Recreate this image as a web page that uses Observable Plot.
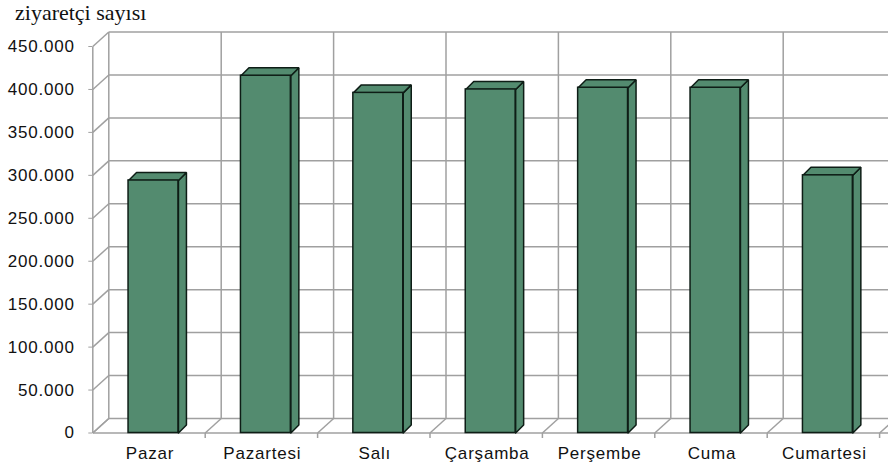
<!DOCTYPE html>
<html>
<head>
<meta charset="utf-8">
<script src="https://cdn.jsdelivr.net/npm/d3@7"></script>
<script src="https://cdn.jsdelivr.net/npm/@observablehq/plot@0.6"></script>
<style>
  html, body { margin: 0; padding: 0; background: #fff; overflow: hidden; }
  #chart { position: relative; width: 888px; height: 470px; }
  #title {
    position: absolute; left: 15px; top: 0; z-index: 1;
    font-family: "Liberation Serif", "Times New Roman", serif;
    font-size: 22px; line-height: 25px; color: #111;
  }
  #chart svg text { letter-spacing: 0.8px; }
</style>
</head>
<body>
<div id="chart"><div id="title">ziyaretçi sayısı</div></div>
<script>
// Weekly visitor counts
const days = ["Pazar", "Pazartesi", "Salı", "Çarşamba", "Perşembe", "Cuma", "Cumartesi"];
const visitors = [294000, 416000, 396000, 400000, 402000, 402000, 300000];
const yTicks = [0, 50000, 100000, 150000, 200000, 250000, 300000, 350000, 400000, 450000];
const yMax = 450000;

// Layout of the front plane (pixels)
const W = 888, H = 470;
const plotLeft = 92.3, plotRight = 879.1, plotTop = 46, plotBottom = 432.5;
const band = (plotRight - plotLeft) / days.length;
const pxPerValue = (plotBottom - plotTop) / yMax;

// Pixel depth offsets expressed in data units
const ux = px => px / band;
const uy = px => px / pxPerValue;
const wallX = ux(16), wallY = uy(14.5);   // back wall depth
const barX = ux(8), barY = uy(8);         // column depth

const rows = days.map((day, i) => ({i, day, v: visitors[i]}));
const bounds = d3.range(0, days.length + 1);

const x1 = d => d.i + 0.318, x2 = d => d.i + 0.762;

// Top and side faces of each column as closed polygons
const topFaces = rows.flatMap(d => [
  {i: d.i, x: x1(d), y: d.v},
  {i: d.i, x: x2(d), y: d.v},
  {i: d.i, x: x2(d) + barX, y: d.v + barY},
  {i: d.i, x: x1(d) + barX, y: d.v + barY},
  {i: d.i, x: x1(d), y: d.v}
]);
const sideFaces = rows.flatMap(d => [
  {i: d.i, x: x2(d), y: 0},
  {i: d.i, x: x2(d), y: d.v},
  {i: d.i, x: x2(d) + barX, y: d.v + barY},
  {i: d.i, x: x2(d) + barX, y: barY},
  {i: d.i, x: x2(d), y: 0}
]);

const tr = d3.formatLocale({decimal: ",", thousands: ".", grouping: [3], currency: ["", " TL"]});
const fmt = tr.format(",");

const grid = {stroke: "#a0a0a0", strokeWidth: 1.5};
const green = "#538b6f", edge = "#0e1d16";

const chart = Plot.plot({
  width: W,
  height: H,
  marginLeft: plotLeft,
  marginRight: W - plotRight,
  marginTop: plotTop,
  marginBottom: H - plotBottom,
  style: {fontFamily: "'Liberation Sans', Arial, sans-serif", fontSize: "17px", color: "#111", background: "#fff"},
  x: {domain: [0, days.length], axis: null},
  y: {domain: [0, yMax], axis: null},
  marks: [
    // back wall: horizontal gridlines
    Plot.link(yTicks, {x1: wallX, x2: days.length + wallX + 0.3, y1: d => d + wallY, y2: d => d + wallY, ...grid}),
    // back wall: vertical gridlines at category boundaries
    Plot.link(bounds, {x1: d => d + wallX, x2: d => d + wallX, y1: wallY, y2: yMax + wallY, ...grid}),
    // side wall diagonals
    Plot.link(yTicks, {x1: 0, x2: wallX, y1: d => d, y2: d => d + wallY, ...grid}),
    // floor diagonals
    Plot.link(bounds, {x1: d => d, x2: d => d + wallX, y1: 0, y2: wallY, ...grid}),
    // floor tick marks
    Plot.link(bounds.slice(1), {x1: d => d, x2: d => d, y1: 0, y2: -uy(5), ...grid}),
    // front floor edge and vertical axis line
    Plot.link([0], {x1: 0, x2: days.length + 0.3, y1: 0, y2: 0, ...grid}),
    Plot.link([0], {x1: 0, x2: 0, y1: 0, y2: yMax, ...grid}),
    // columns
    Plot.line(sideFaces, {x: "x", y: "y", z: "i", fill: green, stroke: edge, strokeWidth: 1.5, strokeLinejoin: "miter"}),
    Plot.line(topFaces, {x: "x", y: "y", z: "i", fill: green, stroke: edge, strokeWidth: 1.5, strokeLinejoin: "miter"}),
    Plot.rect(rows, {x1, x2, y1: 0, y2: "v", fill: green, stroke: edge, strokeWidth: 1.5}),
    // value axis
    Plot.axisY({ticks: yTicks, tickFormat: fmt, tickSize: 4, tickPadding: 14, stroke: "#a0a0a0", fill: "#111", label: null}),
    // category labels
    Plot.text(rows, {x: d => d.i + 0.5, y: 0, dx: 1, dy: 21, text: "day", fill: "#111"})
  ]
});

document.getElementById("chart").appendChild(chart);
</script>
</body>
</html>
